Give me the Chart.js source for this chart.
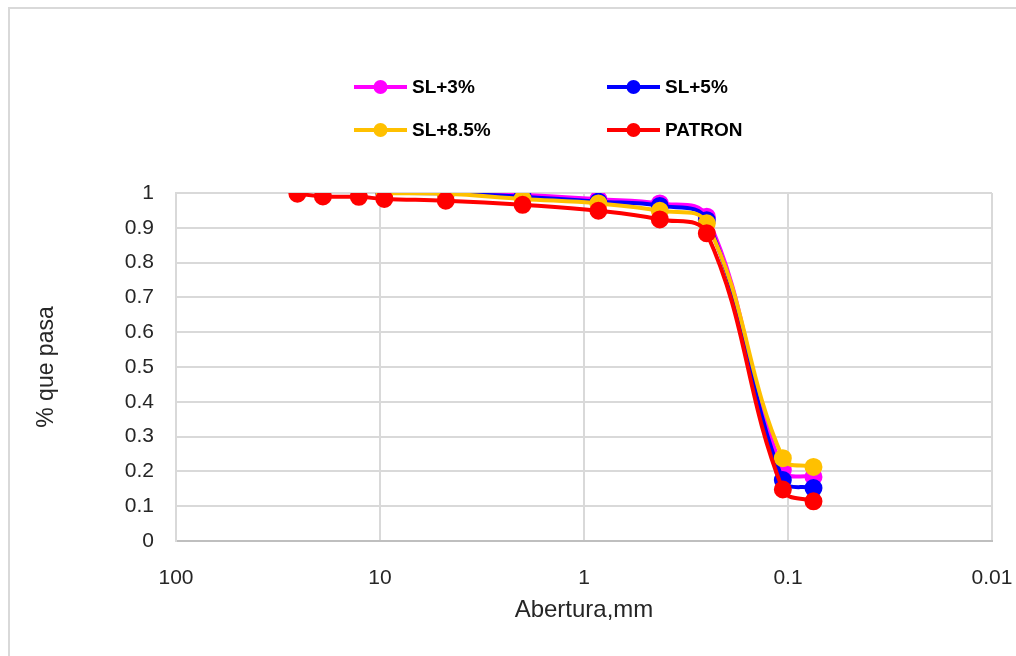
<!DOCTYPE html>
<html>
<head>
<meta charset="utf-8">
<script src="https://cdn.jsdelivr.net/npm/chart.js@4/dist/chart.umd.min.js"></script>
<style>
html,body{margin:0;padding:0;background:#fff;}
#wrap{position:relative;width:1016px;height:656px;}
canvas{display:block;}
</style>
</head>
<body>
<div id="wrap"><canvas id="c" width="1016" height="656"></canvas></div>
<script>
// ---- data ----
const aberturaPatron = [25.4, 19.05, 12.7, 9.525, 4.76, 2.0, 0.85, 0.425, 0.25, 0.106, 0.075];
const aberturaSL = [9.525, 4.76, 2.0, 0.85, 0.425, 0.25, 0.106, 0.075];
const patron = [0.998, 0.990, 0.989, 0.983, 0.978, 0.966, 0.949, 0.924, 0.884, 0.148, 0.114];
const sl3 = [1.0, 1.0, 0.994, 0.982, 0.970, 0.932, 0.204, 0.184];
const sl5 = [1.0, 0.999, 0.989, 0.975, 0.963, 0.922, 0.175, 0.152];
const sl85 = [0.999, 0.998, 0.983, 0.970, 0.949, 0.913, 0.238, 0.213];
const seriesNames = ['SL+3%', 'SL+5%', 'SL+8.5%', 'PATRON'];
const xTickValues = [100, 10, 1, 0.1, 0.01];
const yTickValues = [0, 0.1, 0.2, 0.3, 0.4, 0.5, 0.6, 0.7, 0.8, 0.9, 1];
const xTitle = 'Abertura,mm';
const yTitle = '% que pasa';

const colors = ['#FF00FF', '#0000FF', '#FFC000', '#FF0000'];

function pts(xs, ys){ return xs.map((x,i)=>({x:x, y:ys[i]})); }

function ds(label, data, color, order){
  return {
    label, data, order,
    borderColor: color, backgroundColor: color,
    pointBackgroundColor: color, pointBorderColor: color,
    borderWidth: 4, pointRadius: 7, pointHoverRadius: 7,
    tension: 0.4, showLine: true, fill: false
  };
}

const legendPlugin = {
  id: 'gridLegend',
  afterDraw(chart){
    const ctx = chart.ctx;
    const items = [
      {i:0, x:354, y:87}, {i:1, x:607, y:87},
      {i:2, x:354, y:130}, {i:3, x:607, y:130}
    ];
    ctx.save();
    items.forEach(it=>{
      const c = colors[it.i];
      ctx.strokeStyle = c; ctx.lineWidth = 4;
      ctx.beginPath(); ctx.moveTo(it.x, it.y); ctx.lineTo(it.x+53, it.y); ctx.stroke();
      ctx.fillStyle = c;
      ctx.beginPath(); ctx.arc(it.x+26.5, it.y, 7, 0, Math.PI*2); ctx.fill();
      ctx.fillStyle = '#000';
      ctx.font = 'bold 19px "Liberation Sans", Arial, sans-serif';
      ctx.textBaseline = 'middle'; ctx.textAlign = 'left';
      ctx.fillText(seriesNames[it.i], it.x+58, it.y+1);
    });
    ctx.restore();
  }
};

const borderPlugin = {
  id: 'outerBorder',
  beforeDraw(chart){
    const ctx = chart.ctx;
    ctx.save();
    ctx.fillStyle = '#fff';
    ctx.fillRect(0,0,chart.width,chart.height);
    ctx.strokeStyle = '#D9D9D9'; ctx.lineWidth = 2;
    ctx.strokeRect(9, 8, 1030, 700);
    ctx.restore();
  }
};

new Chart(document.getElementById('c'), {
  type: 'scatter',
  data: {
    datasets: [
      ds(seriesNames[0], pts(aberturaSL, sl3), colors[0], 3),
      ds(seriesNames[1], pts(aberturaSL, sl5), colors[1], 2),
      ds(seriesNames[2], pts(aberturaSL, sl85), colors[2], 1),
      ds(seriesNames[3], pts(aberturaPatron, patron), colors[3], 0)
    ]
  },
  options: {
    responsive: false,
    animation: false,
    layout: { padding: { left: 0, top: 193, right: 24, bottom: 0 } },
    plugins: { legend: { display: false }, tooltip: { enabled: false } },
    scales: {
      x: {
        type: 'logarithmic', reverse: true, min: 0.01, max: 100,
        afterBuildTicks(scale){ scale.ticks = xTickValues.map(v=>({value:v})); },
        afterFit(scale){ scale.height = 115; scale.paddingLeft = 0; scale.paddingRight = 0; },
        ticks: {
          autoSkip: false, maxRotation: 0, padding: 25,
          color: '#262626', font: { family: '"Liberation Sans", Arial, sans-serif', size: 21 },
          callback(v){ return String(v); }
        },
        grid: { color: '#D9D9D9', lineWidth: 2, drawTicks: false },
        border: { color: '#BFBFBF', width: 2 },
        title: { display: true, text: xTitle, color: '#262626',
          font: { family: '"Liberation Sans", Arial, sans-serif', size: 24 },
          padding: { top: 0, bottom: 31 } }
      },
      y: {
        min: 0, max: 1,
        afterBuildTicks(scale){ scale.ticks = yTickValues.map(v=>({value:v})); },
        afterFit(scale){ scale.width = 176; scale.paddingTop = 0; scale.paddingBottom = 0; },
        ticks: {
          padding: 22, color: '#262626',
          font: { family: '"Liberation Sans", Arial, sans-serif', size: 21 },
          callback(v){ return String(Math.round(v*10)/10); }
        },
        grid: { color: '#D9D9D9', lineWidth: 2, drawTicks: false },
        border: { color: '#D9D9D9', width: 2 },
        title: { display: true, text: yTitle, color: '#262626',
          font: { family: '"Liberation Sans", Arial, sans-serif', size: 23 },
          padding: { top: 33, bottom: 0 } }
      }
    }
  },
  plugins: [borderPlugin, legendPlugin]
});
</script>
</body>
</html>
